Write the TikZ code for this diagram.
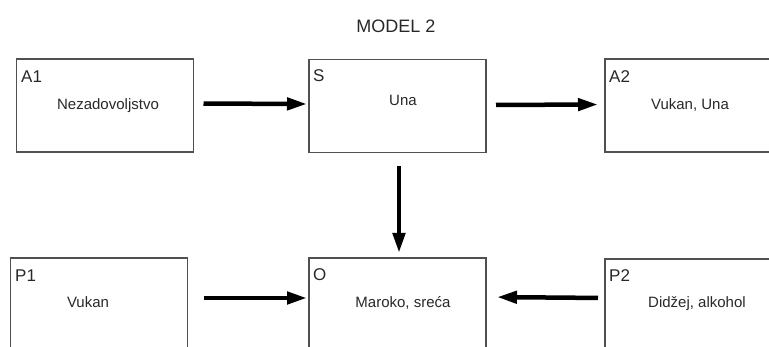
\documentclass[tikz,border=0pt]{standalone}
\usepackage{fontspec}
\setmainfont{Liberation Sans}
\usetikzlibrary{arrows.meta}
\definecolor{boxline}{RGB}{80,80,80}
\definecolor{txt}{RGB}{40,40,40}
\begin{document}
\begin{tikzpicture}[x=1pt,y=-1pt,
  box/.style={draw=boxline, line width=1.8pt, minimum width=177pt, minimum height=93pt, inner sep=0pt, outer sep=0pt},
  lab/.style={anchor=base west, inner sep=0pt, text=txt, font=\fontsize{17}{19}\selectfont},
  cont/.style={anchor=base, inner sep=0pt, text=txt, font=\fontsize{15}{17}\selectfont},
  arr/.style={line width=4.5pt, -{Triangle[length=20pt,width=12pt]}}]
\useasboundingbox (0,0) rectangle (769,347);
\clip (0,0) rectangle (769,347);
% boxes
\node[box] (A1) at (105,105.5) {};
\node[box] (S)  at (397.5,106) {};
\node[box] (A2) at (693.5,105.5) {};
\node[box] (P1) at (99,304.5) {};
\node[box] (O)  at (397.5,304.5) {};
\node[box] (P2) at (693.5,305.5) {};
% title
\node[anchor=base, inner sep=0pt, text=txt, font=\fontsize{18}{20}\selectfont] (title) at (396,33) {MODEL 2};
% labels
\node[lab] (A1l) at (21,83) {A1};
\node[lab] (Sl)  at (313,82) {S};
\node[lab] (A2l) at (609,83) {A2};
\node[lab] (P1l) at (15,282) {P1};
\node[lab] (Ol)  at (313,281) {O};
\node[lab] (P2l) at (609,282) {P2};
% contents
\node[cont] (A1t) at (108,110) {Nezadovoljstvo};
\node[cont] (St)  at (403,106) {Una};
\node[cont] (A2t) at (690,110) {Vukan, Una};
\node[cont] (P1t) at (88,308) {Vukan};
\node[cont] (Ot)  at (403,308) {Maroko, sreća};
\node[cont] (P2t) at (697,308) {Didžej, alkohol};
% arrows
\draw[arr, shorten <=10pt, shorten >=2pt] ([yshift=2pt]A1.east) -- ([yshift=2pt]S.west);
\draw[arr, shorten <=10pt, shorten >=7pt] ([yshift=1pt]S.east) -- ([yshift=1pt]A2.west);
\draw[arr, shorten <=14pt, shorten >=5pt] ([xshift=1.5pt]S.south) -- ([xshift=1.5pt]O.north);
\draw[arr, shorten <=16pt, shorten >=2pt] ([yshift=6.5pt]P1.east) -- ([yshift=6.5pt]O.west);
\draw[arr, shorten <=7pt, shorten >=11pt] ([yshift=7.5pt]P2.west) -- ([yshift=7.5pt]O.east);
\end{tikzpicture}
\end{document}
